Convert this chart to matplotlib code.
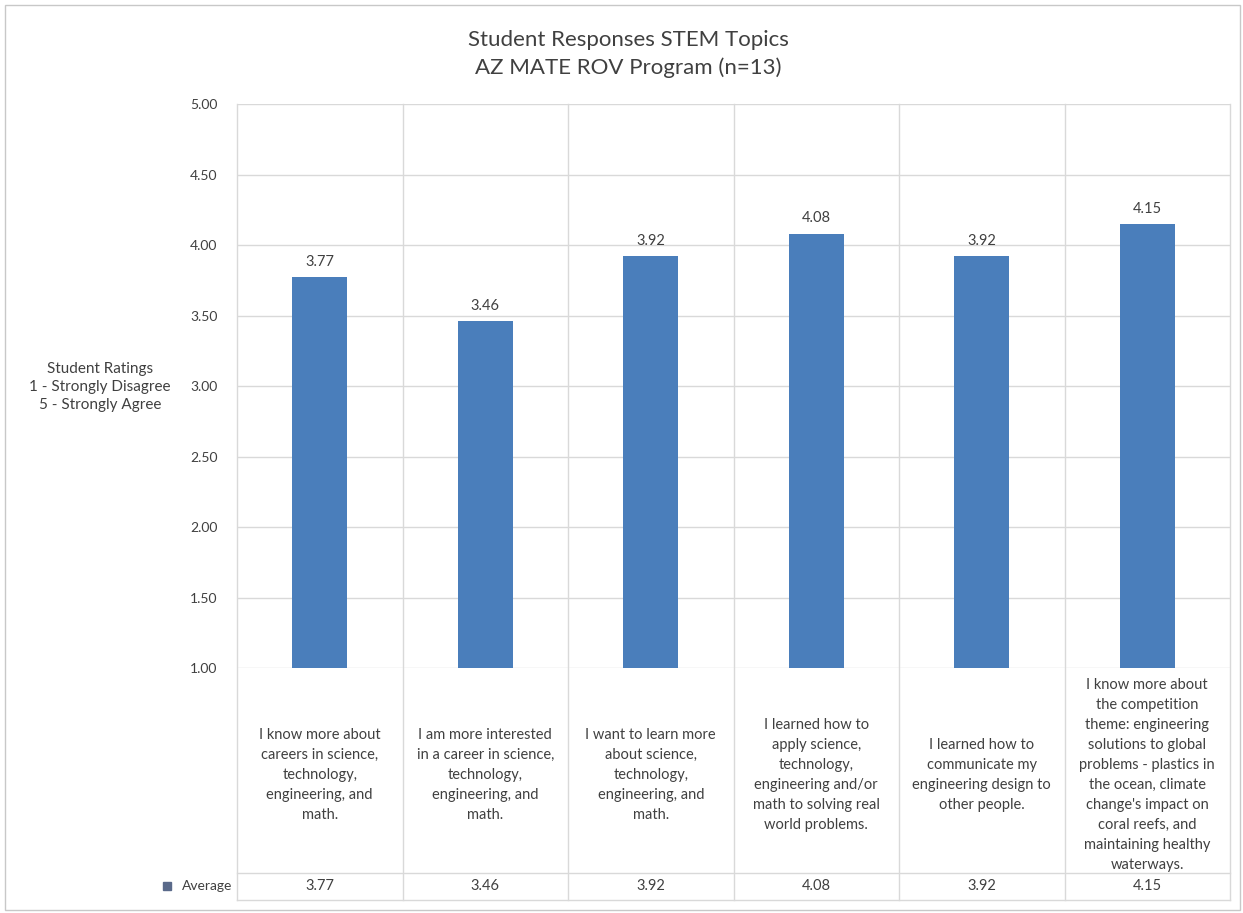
import matplotlib
matplotlib.use("Agg")
import matplotlib.pyplot as plt
from matplotlib.patches import Rectangle
from matplotlib.lines import Line2D

plt.rcParams['font.family'] = ['Lato', 'DejaVu Sans']

categories = [
    "I know more about\ncareers in science,\ntechnology,\nengineering, and\nmath.",
    "I am more interested\nin a career in science,\ntechnology,\nengineering, and\nmath.",
    "I want to learn more\nabout science,\ntechnology,\nengineering, and\nmath.",
    "I learned how to\napply science,\ntechnology,\nengineering and/or\nmath to solving real\nworld problems.",
    "I learned how to\ncommunicate my\nengineering design to\nother people.",
    "I know more about\nthe competition\ntheme: engineering\nsolutions to global\nproblems - plastics in\nthe ocean, climate\nchange's impact on\ncoral reefs, and\nmaintaining healthy\nwaterways.",
]
averages = [3.77, 3.46, 3.92, 4.08, 3.92, 4.15]
series_name = "Average"
yticks = [1.00, 1.50, 2.00, 2.50, 3.00, 3.50, 4.00, 4.50, 5.00]
title = "Student Responses STEM Topics\nAZ MATE ROV Program (n=13)"
ylabel = "Student Ratings\n1 - Strongly Disagree\n5 - Strongly Agree"

BAR = "#4a7ebb"
TXT = "#404040"
GRID = "#d9d9d9"

W, H = 1243, 913
fig = plt.figure(figsize=(W / 100, H / 100), dpi=100)

# plot area in pixel terms
L, R, T, B = 237, 1230, 104, 668
ax = fig.add_axes([L / W, 1 - B / H, (R - L) / W, (B - T) / H])

n = len(categories)
x = list(range(n))
ax.bar(x, averages, width=0.33, bottom=0, color=BAR, zorder=3)
ax.set_xlim(-0.5, n - 0.5)
ax.set_ylim(1.0, 5.0)
ax.set_yticks(yticks)
ax.set_yticklabels([f"{v:.2f}" for v in yticks], color=TXT, fontsize=10)
ax.tick_params(axis='y', length=0, pad=14)
ax.tick_params(axis='x', length=0, labelbottom=False)
for s in ax.spines.values():
    s.set_visible(False)
ax.grid(axis='y', color=GRID, linewidth=1, zorder=0)

# data labels
for xi, v in zip(x, averages):
    ax.annotate(f"{v:.2f}", (xi, v), xytext=(0, 6), textcoords='offset points',
                ha='center', va='bottom', fontsize=10.5, color=TXT)

# table: category separators run from top of plot to bottom of table
ybottom_tab = -(900 - B) / (B - T)
yrow = -(873 - B) / (B - T)
xt = ax.get_xaxis_transform()
for b in [i - 0.5 for i in range(n + 1)]:
    ax.add_line(Line2D([b, b], [ybottom_tab, 1.0], transform=xt, color=GRID,
                       linewidth=1, clip_on=False, zorder=1))
ax.add_line(Line2D([-0.5, n - 0.5], [yrow, yrow], transform=xt, color=GRID,
                   linewidth=1, clip_on=False))
ax.add_line(Line2D([-0.5, n - 0.5], [ybottom_tab, ybottom_tab], transform=xt,
                   color=GRID, linewidth=1, clip_on=False))

ycat = -(775 - B) / (B - T)
yval = -(886 - B) / (B - T)
for xi, c, v in zip(x, categories, averages):
    ax.text(xi, ycat, c, transform=xt, ha='center', va='center', fontsize=10.5,
            color=TXT, linespacing=1.55)
    ax.text(xi, yval, f"{v:.2f}", transform=xt, ha='center', va='center',
            fontsize=10.5, color=TXT)

# legend key cell
fig.text(232 / W, 1 - 886 / H, series_name, ha='right', va='center',
         fontsize=10, color=TXT)
fig.patches.append(Rectangle((163 / W, 1 - 890 / H), 8 / W, 8 / H,
                             transform=fig.transFigure, color="#5a6a8a"))

# titles
fig.text(628 / W, 1 - 54 / H, title, ha='center', va='center', fontsize=16,
         color=TXT, linespacing=1.4)
fig.text(100 / W, 1 - 387 / H, ylabel, ha='center', va='center', fontsize=11,
         color=TXT, linespacing=1.35)

# chart border
fig.patches.append(Rectangle((5 / W, 1 - 910 / H), 1235 / W, 905 / H,
                             transform=fig.transFigure, fill=False,
                             edgecolor="#c8c8c8", linewidth=1))

fig.savefig("out.png", dpi=100, facecolor="white")
